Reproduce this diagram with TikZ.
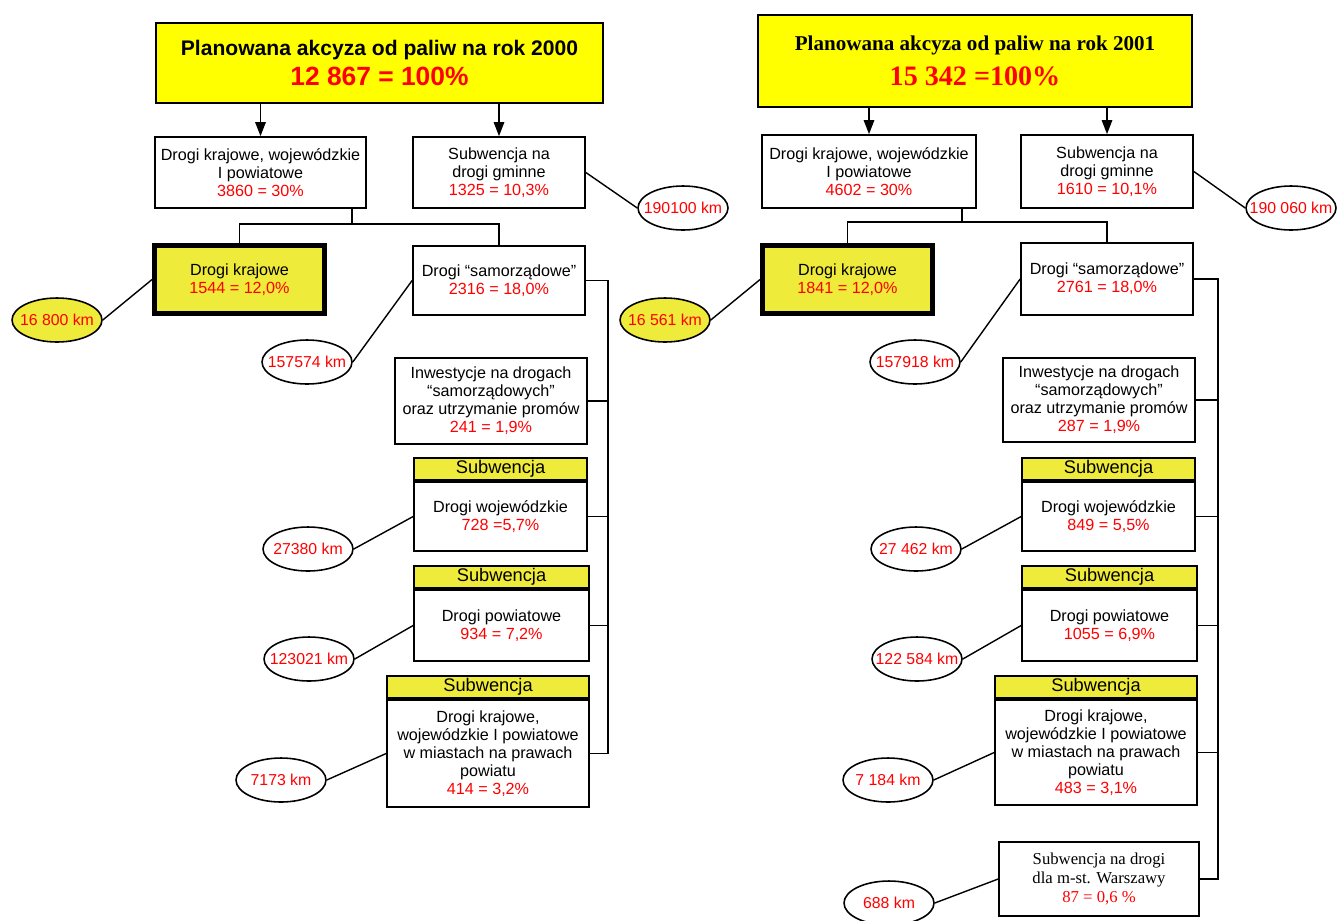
\documentclass[tikz,border=0pt]{standalone}
\usepackage{fontspec}
\setmainfont{Liberation Sans}
\newfontfamily\timesf{Liberation Serif}
\usepackage{tikz}
\usetikzlibrary{shapes.geometric, arrows.meta, positioning}
\definecolor{akyellow}{HTML}{FFFF00}
\definecolor{kryellow}{HTML}{EFEB3B}
\newcommand{\val}[1]{\textcolor{red}{#1}}
\newcommand{\kmlab}[1]{\makebox[0pt]{#1}}

\begin{document}
\begin{tikzpicture}[x=0.02cm, y=-0.02cm,
  box/.style={draw, fill=white, line width=1pt, align=center, inner sep=1pt, font=\fontsize{9.2}{10.3}\selectfont},
  topbox/.style={box, fill=akyellow, line width=1.2pt},
  krbox/.style={box, fill=kryellow, line width=2.8pt, minimum width=3.4cm, minimum height=1.36cm},
  hdr/.style={box, fill=kryellow, minimum height=0.44cm, font=\fontsize{10.4}{11}\selectfont},
  km/.style={ellipse, draw, line width=0.9pt, fill=white, text=red, minimum width=1.8cm, minimum height=0.88cm, inner sep=0pt, font=\fontsize{9}{10}\selectfont},
  lnk/.style={line width=0.8pt},
  arr/.style={lnk, -{Triangle[length=8pt,width=6pt]}}
]
\useasboundingbox (0,0) rectangle (1337,920);

% Rok 2000
\node[topbox, minimum width=8.94cm, minimum height=1.6cm] (topL) at (379.5,63)
  {\fontsize{12}{14}\selectfont\bfseries Planowana akcyza od paliw na rok 2000\\[3pt]
   \fontsize{15}{15}\selectfont\bfseries\val{12 867 = 100\%}};
\node[box, minimum width=4.22cm, minimum height=1.42cm] (wkpL) at (260.5,172.5) {Drogi krajowe, wojewódzkie\\I powiatowe\\\val{3860 = 30\%}};
\node[box, minimum width=3.44cm, minimum height=1.42cm] (gmL) at (499,172.5) {Subwencja na\\drogi gminne\\\val{1325 = 10,3\%}};
\node[krbox] (krL) at (239.5,279.5) {Drogi krajowe\\\val{1544 = 12,0\%}};
\node[box, minimum width=3.44cm, minimum height=1.38cm] (samL) at (499,280.5) {Drogi “samorządowe”\\\val{2316 = 18,0\%}};
\node[box, minimum width=3.84cm, minimum height=1.72cm] (invL) at (491,401) {Inwestycje na drogach\\“samorządowych”\\oraz utrzymanie promów\\\val{241 = 1,9\%}};
\node[box, minimum width=3.46cm, minimum height=1.38cm] (wojL) at (500.5,516.5) {Drogi wojewódzkie\\\val{728 =5,7\%}};
\node[hdr, minimum width=3.46cm, above=0pt of wojL] (wojLh) {Subwencja};
\node[box, minimum width=3.5cm, minimum height=1.42cm] (powL) at (501.5,625.5) {Drogi powiatowe\\\val{934 = 7,2\%}};
\node[hdr, minimum width=3.5cm, above=0pt of powL] (powLh) {Subwencja};
\node[box, minimum width=4.04cm, minimum height=2.14cm] (miaL) at (488,753.5) {Drogi krajowe,\\wojewódzkie I powiatowe\\w miastach na prawach\\powiatu\\\val{414 = 3,2\%}};
\node[hdr, minimum width=4.04cm, above=0pt of miaL] (miaLh) {Subwencja};

% Dlugosci drog
\node[km] (kmgmL) at (683,208) {\kmlab{190100 km}};
\node[km, fill=kryellow] (kmkrL) at (57,320) {\kmlab{16 800 km}};
\node[km] (kmsamL) at (307,362) {\kmlab{157574 km}};
\node[km] (kmwojL) at (308,549) {\kmlab{27380 km}};
\node[km] (kmpowL) at (309,659) {\kmlab{123021 km}};
\node[km] (kmmiaL) at (281,780) {\kmlab{7173 km}};

% Polaczenia 2000
\draw[arr] (topL.south -| wkpL.north) -- (wkpL.north);
\draw[arr] (topL.south -| gmL.north) -- (gmL.north);
\coordinate (jL) at (352,224);
\draw[lnk] (wkpL.south -| jL) -- (jL);
\draw[lnk] (krL.north) |- (jL) -| (samL.north);
\coordinate (busL) at (608,0);
\draw[lnk] (samL.east) -- (samL.east -| busL) -- (miaL.east -| busL) -- (miaL.east);
\foreach \n in {invL, wojL, powL}
  \draw[lnk] (\n.east) -- (\n.east -| busL);
\foreach \a/\o in {gmL.east/kmgmL.west, krL.west/kmkrL.east, samL.west/kmsamL.east,
                   wojL.west/kmwojL.east, powL.west/kmpowL.east, miaL.west/kmmiaL.east}
  \draw[lnk] (\a) -- (\o);

% Rok 2001
\node[topbox, minimum width=8.68cm, minimum height=1.84cm] (topR) at (975,61)
  {\timesf\fontsize{12}{14}\selectfont\bfseries Planowana akcyza od paliw na rok 2001\\[6pt]
   \timesf\fontsize{16}{16}\selectfont\bfseries\val{15 342 =100\%}};
\node[box, minimum width=4.28cm, minimum height=1.46cm] (wkpR) at (869,171.5) {Drogi krajowe, wojewódzkie\\I powiatowe\\\val{4602 = 30\%}};
\node[box, minimum width=3.44cm, minimum height=1.46cm] (gmR) at (1107,171.5) {Subwencja na\\drogi gminne\\\val{1610 = 10,1\%}};
\node[krbox] (krR) at (847.5,279.5) {Drogi krajowe\\\val{1841 = 12,0\%}};
\node[box, minimum width=3.44cm, minimum height=1.44cm] (samR) at (1107,279) {Drogi “samorządowe”\\\val{2761 = 18,0\%}};
\node[box, minimum width=3.84cm, minimum height=1.68cm] (invR) at (1099,400) {Inwestycje na drogach\\“samorządowych”\\oraz utrzymanie promów\\\val{287 = 1,9\%}};
\node[box, minimum width=3.46cm, minimum height=1.38cm] (wojR) at (1108.5,516.5) {Drogi wojewódzkie\\\val{849 = 5,5\%}};
\node[hdr, minimum width=3.46cm, above=0pt of wojR] (wojRh) {Subwencja};
\node[box, minimum width=3.5cm, minimum height=1.42cm] (powR) at (1109.5,625.5) {Drogi powiatowe\\\val{1055 = 6,9\%}};
\node[hdr, minimum width=3.5cm, above=0pt of powR] (powRh) {Subwencja};
\node[box, minimum width=4.04cm, minimum height=2.1cm] (miaR) at (1096,752.5) {Drogi krajowe,\\wojewódzkie I powiatowe\\w miastach na prawach\\powiatu\\\val{483 = 3,1\%}};
\node[hdr, minimum width=4.04cm, above=0pt of miaR] (miaRh) {Subwencja};
\node[box, minimum width=4cm, minimum height=1.48cm, font=\timesf\fontsize{9.5}{10.8}\selectfont] (warR) at (1099,879) {Subwencja na drogi\\dla m-st. Warszawy\\\val{87 = 0,6 \%}};

% Dlugosci drog
\node[km] (kmgmR) at (1291,208) {\kmlab{190 060 km}};
\node[km, fill=kryellow] (kmkrR) at (665,320) {\kmlab{16 561 km}};
\node[km] (kmsamR) at (915,362) {\kmlab{157918 km}};
\node[km] (kmwojR) at (916,549) {\kmlab{27 462 km}};
\node[km] (kmpowR) at (917,659) {\kmlab{122 584 km}};
\node[km] (kmmiaR) at (888,780) {\kmlab{7 184 km}};
\node[km] (kmwarR) at (889,903) {\kmlab{688 km}};

% Polaczenia 2001
\draw[arr] (topR.south -| wkpR.north) -- (wkpR.north);
\draw[arr] (topR.south -| gmR.north) -- (gmR.north);
\coordinate (jR) at (962,222);
\draw[lnk] (wkpR.south -| jR) -- (jR);
\draw[lnk] (krR.north) |- (jR) -| (samR.north);
\coordinate (busR) at (1218,0);
\draw[lnk] (samR.east) -- (samR.east -| busR) -- (warR.east -| busR) -- (warR.east);
\foreach \n in {invR, wojR, powR, miaR}
  \draw[lnk] (\n.east) -- (\n.east -| busR);
\foreach \a/\o in {gmR.east/kmgmR.west, krR.west/kmkrR.east, samR.west/kmsamR.east,
                   wojR.west/kmwojR.east, powR.west/kmpowR.east, miaR.west/kmmiaR.east,
                   warR.west/kmwarR.east}
  \draw[lnk] (\a) -- (\o);
\end{tikzpicture}
\end{document}
